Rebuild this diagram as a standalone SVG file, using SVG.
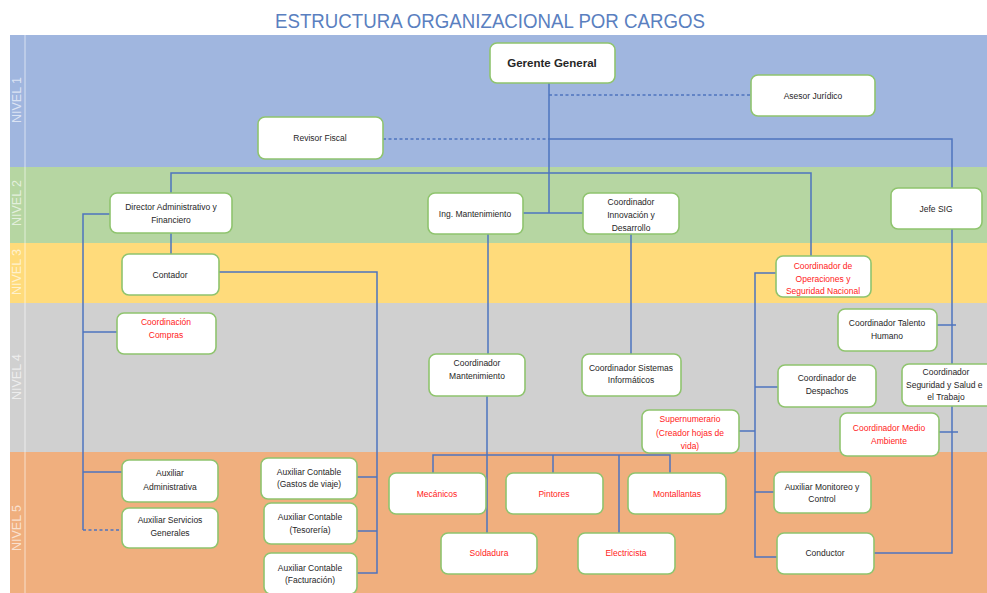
<svg xmlns="http://www.w3.org/2000/svg" width="987" height="593" viewBox="0 0 987 593">
<style>
.t{font-family:"Liberation Sans",Arial,sans-serif;font-size:8.5px;fill:#262626;text-anchor:middle}
.r{fill:#FF1A1A}
.n{fill:#ffffff;stroke:#8FC46E;stroke-width:1.6}
.lvl{font-family:"Liberation Sans",Arial,sans-serif;font-size:12.5px;fill:#ffffff;fill-opacity:0.65;text-anchor:middle}
.c{fill:none;stroke:#4D74BF;stroke-width:1.5}
.d{stroke-dasharray:3 2.5}
</style>
<rect x="0" y="0" width="987" height="593" fill="#ffffff"/>
<text x="490" y="28" font-family="'Liberation Sans',Arial,sans-serif" font-size="20" fill="#5A7FC0" text-anchor="middle" textLength="430" lengthAdjust="spacingAndGlyphs">ESTRUCTURA ORGANIZACIONAL POR CARGOS</text>
<g id="bands">
<rect x="10" y="35" width="977" height="132" fill="#A0B6DF"/>
<rect x="10" y="167" width="977" height="76" fill="#B6D6A2"/>
<rect x="10" y="243" width="977" height="60" fill="#FFDB7B"/>
<rect x="10" y="303" width="977" height="149" fill="#D0D0D0"/>
<rect x="10" y="452" width="977" height="141" fill="#F0AF7E"/>
<line x1="25" y1="35" x2="25" y2="593" stroke="#ffffff" stroke-opacity="0.6" stroke-width="1"/>
<text class="lvl" transform="translate(21,100) rotate(-90)">NIVEL 1</text>
<text class="lvl" transform="translate(21,203) rotate(-90)">NIVEL 2</text>
<text class="lvl" transform="translate(21,272) rotate(-90)">NIVEL 3</text>
<text class="lvl" transform="translate(21,377) rotate(-90)">NIVEL 4</text>
<text class="lvl" transform="translate(21,528) rotate(-90)">NIVEL 5</text>
</g>
<g id="connectors">
<path class="c" d="M549 83 V213"/>
<path class="c d" d="M549 95 H751"/>
<path class="c d" d="M383 139 H549"/>
<path class="c" d="M549 139 H952 V553 H874"/>
<path class="c" d="M523 213 H583"/>
<path class="c" d="M171 193 V173 H811 V256"/>
<path class="c" d="M171 233 V254"/>
<path class="c" d="M110 214 H83 V530"/>
<path class="c" d="M83 332 H117 M83 472 H122"/>
<path class="c d" d="M83 530 H122"/>
<path class="c" d="M219 272 H377 V573 H357 M357 477 H377 M357 531 H377"/>
<path class="c" d="M488 234 V354"/>
<path class="c" d="M487 396 V533"/>
<path class="c" d="M433 473 V455 H670 V473 M553 455 V473 M619 455 V533"/>
<path class="c" d="M631 234 V354"/>
<path class="c" d="M776 273 H755 V557 H777 M755 387 H778 M739 431 H755 M755 492 H774"/>
<path class="c" d="M937 325 H956 M939 432 H958"/>
</g>
<g id="gerente"><rect class="n" x="490" y="43" width="125" height="40" rx="7"/><text class="t" x="552" y="67" style="font-size:11.5px;font-weight:bold">Gerente General</text></g>
<g id="asesor"><rect class="n" x="751" y="75" width="124" height="41" rx="7"/><text class="t" x="813" y="99">Asesor Jurídico</text></g>
<g id="revisor"><rect class="n" x="258" y="117" width="125" height="42" rx="7"/><text class="t" x="320" y="141">Revisor Fiscal</text></g>
<g id="director"><rect class="n" x="110" y="193" width="122" height="40" rx="7"/><text class="t" x="171" y="210">Director Administrativo y</text><text class="t" x="171" y="223">Financiero</text></g>
<g id="ing-mantenimiento"><rect class="n" x="428" y="193" width="95" height="41" rx="7"/><text class="t" x="475" y="217">Ing. Mantenimiento</text></g>
<g id="innovacion"><rect class="n" x="583" y="193" width="96" height="41" rx="7"/><text class="t" x="631" y="205">Coordinador</text><text class="t" x="631" y="218">Innovación y</text><text class="t" x="631" y="231">Desarrollo</text></g>
<g id="jefe-sig"><rect class="n" x="891" y="188" width="91" height="41" rx="7"/><text class="t" x="936" y="212">Jefe SIG</text></g>
<g id="contador"><rect class="n" x="122" y="254" width="97" height="41" rx="7"/><text class="t" x="170" y="278">Contador</text></g>
<g id="operaciones"><rect class="n" x="776" y="256" width="95" height="41" rx="7"/><text class="t r" x="823" y="269">Coordinador de</text><text class="t r" x="823" y="282">Operaciones y</text><text class="t r" x="823" y="294">Seguridad Nacional</text></g>
<g id="compras"><rect class="n" x="117" y="313" width="99" height="41" rx="7"/><text class="t r" x="166" y="325">Coordinación</text><text class="t r" x="166" y="338">Compras</text></g>
<g id="coord-mantenimiento"><rect class="n" x="429" y="354" width="96" height="42" rx="7"/><text class="t" x="477" y="366">Coordinador</text><text class="t" x="477" y="379">Mantenimiento</text></g>
<g id="sistemas"><rect class="n" x="582" y="354" width="99" height="42" rx="7"/><text class="t" x="631" y="371">Coordinador Sistemas</text><text class="t" x="631" y="383">Informáticos</text></g>
<g id="talento"><rect class="n" x="838" y="309" width="99" height="42" rx="7"/><text class="t" x="887" y="326">Coordinador Talento</text><text class="t" x="887" y="339">Humano</text></g>
<g id="despachos"><rect class="n" x="778" y="365" width="98" height="42" rx="7"/><text class="t" x="827" y="381">Coordinador de</text><text class="t" x="827" y="394">Despachos</text></g>
<g id="seguridad"><rect class="n" x="902" y="364" width="100" height="42" rx="7"/><text class="t" x="946" y="375">Coordinador</text><text class="t" x="906" y="388" style="text-anchor:start">Seguridad y Salud e</text><text class="t" x="946" y="400">el Trabajo</text></g>
<g id="supernumerario"><rect class="n" x="642" y="410" width="97" height="43" rx="7"/><text class="t r" x="690" y="422">Supernumerario</text><text class="t r" x="690" y="436">(Creador hojas de</text><text class="t r" x="690" y="449">vida)</text></g>
<g id="medio-ambiente"><rect class="n" x="840" y="413" width="99" height="43" rx="7"/><text class="t r" x="889" y="431">Coordinador Medio</text><text class="t r" x="889" y="444">Ambiente</text></g>
<g id="aux-administrativa"><rect class="n" x="122" y="460" width="96" height="42" rx="7"/><text class="t" x="170" y="476">Auxiliar</text><text class="t" x="170" y="490">Administrativa</text></g>
<g id="aux-servicios"><rect class="n" x="122" y="508" width="96" height="40" rx="7"/><text class="t" x="170" y="523">Auxiliar Servicios</text><text class="t" x="170" y="536">Generales</text></g>
<g id="aux-gastos"><rect class="n" x="261" y="458" width="96" height="41" rx="7"/><text class="t" x="309" y="475">Auxiliar Contable</text><text class="t" x="309" y="487">(Gastos de viaje)</text></g>
<g id="aux-tesoreria"><rect class="n" x="264" y="503" width="93" height="41" rx="7"/><text class="t" x="310" y="520">Auxiliar Contable</text><text class="t" x="310" y="533">(Tesorería)</text></g>
<g id="aux-facturacion"><rect class="n" x="264" y="553" width="93" height="41" rx="7"/><text class="t" x="310" y="571">Auxiliar Contable</text><text class="t" x="310" y="583">(Facturación)</text></g>
<g id="mecanicos"><rect class="n" x="389" y="473" width="97" height="41" rx="7"/><text class="t r" x="437" y="497">Mecánicos</text></g>
<g id="soldadura"><rect class="n" x="441" y="533" width="96" height="41" rx="7"/><text class="t r" x="489" y="556">Soldadura</text></g>
<g id="pintores"><rect class="n" x="506" y="473" width="97" height="41" rx="7"/><text class="t r" x="554" y="497">Pintores</text></g>
<g id="montallantas"><rect class="n" x="628" y="473" width="98" height="41" rx="7"/><text class="t r" x="677" y="497">Montallantas</text></g>
<g id="electricista"><rect class="n" x="578" y="533" width="97" height="41" rx="7"/><text class="t r" x="626" y="556">Electricista</text></g>
<g id="aux-monitoreo"><rect class="n" x="774" y="472" width="97" height="41" rx="7"/><text class="t" x="822" y="490">Auxiliar Monitoreo y</text><text class="t" x="822" y="502">Control</text></g>
<g id="conductor"><rect class="n" x="777" y="533" width="97" height="41" rx="7"/><text class="t" x="825" y="556">Conductor</text></g>
</svg>
